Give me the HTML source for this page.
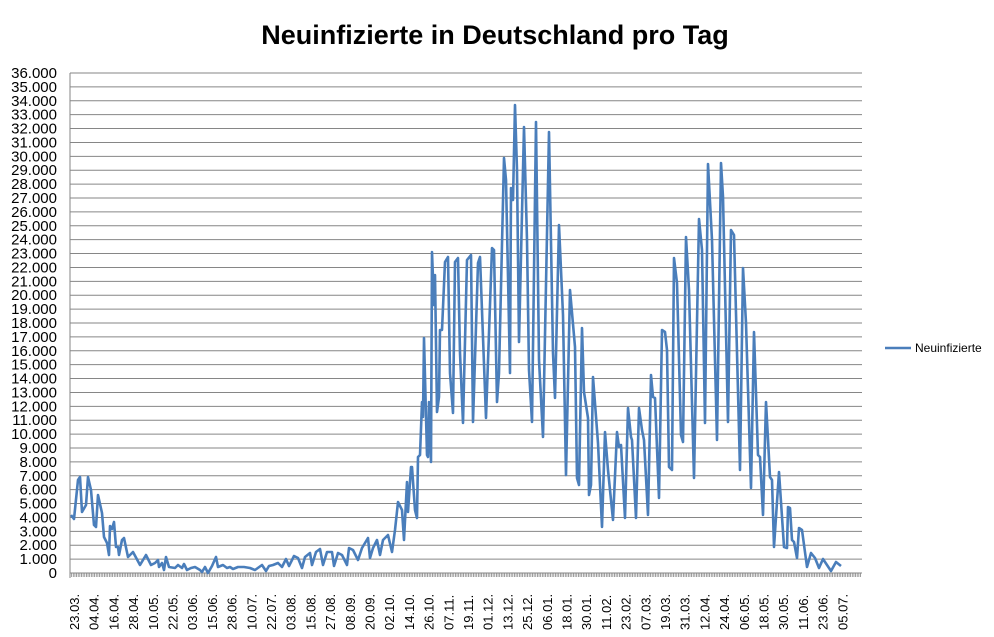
<!DOCTYPE html>
<html><head><meta charset="utf-8"><style>
body{margin:0;background:#fff;}
svg{display:block;font-family:"Liberation Sans",sans-serif;}
</style></head><body>
<svg id="s" width="994" height="637" viewBox="0 0 994 637" xmlns="http://www.w3.org/2000/svg">
<text x="495" y="44" text-anchor="middle" font-size="27" font-weight="bold" fill="#000">Neuinfizierte in Deutschland pro Tag</text>
<g id="grid"></g>
<g id="ylab" font-size="15" text-anchor="end" fill="#000"></g>
<g id="xlab" font-size="13" fill="#000"></g>
<polyline id="ln" fill="none" stroke="#4a7ebb" stroke-width="2.6" stroke-linejoin="round" points=""/>
<line x1="885" y1="348" x2="911" y2="348" stroke="#4a7ebb" stroke-width="2.6"/>
<text x="915" y="352" font-size="12" fill="#000">Neuinfizierte</text>
</svg>
<script>
var NS="http://www.w3.org/2000/svg",g=document.getElementById('grid'),yl=document.getElementById('ylab'),xl=document.getElementById('xlab');
function el(t,a,p,txt){var e=document.createElementNS(NS,t);for(var k in a)e.setAttribute(k,a[k]);if(txt)e.textContent=txt;p.appendChild(e);return e;}
var x0=70,x1=862,y0=573,y36=73;
for(var i=0;i<=36;i++){var y=y0-(y0-y36)*i/36;
 if(i>0)el('line',{x1:x0,x2:x1,y1:y,y2:y,stroke:'#868686','stroke-width':1},g);
 var s=i==0?'0':(i+'.000');el('text',{x:57,y:y+5},yl,s);}
el('line',{x1:x0,x2:x0,y1:y36,y2:y0+5,stroke:'#868686','stroke-width':1},g);
el('line',{x1:x0,x2:x1,y1:y0,y2:y0,stroke:'#868686','stroke-width':1},g);
for(var d=0;d<=483;d++){var x=x0+d*1.64;if(x>x1)break;el('line',{x1:x,x2:x,y1:y0,y2:y0+4,stroke:'#868686','stroke-width':0.8},g);}
var labs="23.03.,04.04.,16.04.,28.04.,10.05.,22.05.,03.06.,15.06.,28.06.,10.07.,22.07.,03.08.,15.08.,27.08.,08.09.,20.09.,02.10.,14.10.,26.10.,07.11.,19.11.,01.12.,13.12.,25.12.,06.01.,18.01.,30.01.,11.02.,23.02.,07.03.,19.03.,31.03.,12.04.,24.04.,06.05.,18.05.,30.05.,11.06.,23.06.,05.07.".split(',');
labs.forEach(function(l,i){var x=79+i*19.7;el('text',{x:0,y:0,transform:'translate('+x+',630) rotate(-90)'},xl,l);});
var pts="71,515 74,519 78,480 80,477 82,512 86,505 88,477 91,490 94,525 96,527 98,495 102,513 104,537 107,543 109,555 110,526 112,529 114,522 116,547 118,547 119,555 122,540 124,538 128,557 133,552 140,565 146,555 151,565 155,563 158,560 159,567 162,563 164,570 166,557 169,567 175,568 178,565 182,568 184,564 187,570 191,568 195,567 200,570 202,572 205,567 208,573 212,566 216,557 218,567 223,565 227,568 230,567 233,569 238,567 244,567 250,568 255,570 262,565 266,571 269,566 273,565 278,563 282,567 286,559 289,566 294,556 298,558 302,568 305,557 310,553 312,565 316,552 320,549 323,565 327,552 332,552 334,566 338,553 342,555 347,565 349,548 353,550 358,560 362,548 368,538 370,558 373,548 377,540 380,555 383,540 388,535 392,552 395,530 398,502 402,510 404,540 407,482 408,512 411,467 412,467 415,510 417,518 418,457 420,455 422,402 423,417 424,338 427,455 428,457 429,402 431,462 432,252 434,305 435,275 437,412 439,397 440,330 442,330 445,262 448,257 450,373 453,413 455,262 458,258 460,353 463,423 467,260 471,255 473,422 478,263 480,257 486,418 492,248 494,250 497,402 499,373 504,158 506,180 510,373 511,188 513,200 515,105 517,170 519,342 524,127 527,240 529,370 532,422 536,122 539,360 543,437 549,132 553,353 555,398 559,225 563,315 566,475 570,290 575,347 577,478 579,485 582,328 584,392 588,418 589,495 591,485 593,377 598,443 602,527 605,432 608,470 613,520 617,432 619,447 621,445 625,518 628,408 631,437 632,440 636,518 639,408 642,430 644,440 648,515 651,375 653,397 655,398 659,498 662,330 665,332 667,350 669,467 672,470 674,258 677,283 681,435 683,442 686,237 689,290 694,478 699,219 702,250 705,423 708,164 712,240 717,440 721,163 723,197 728,422 731,230 734,235 740,470 743,268 746,323 751,488 754,332 758,455 760,457 763,515 766,402 770,477 772,480 774,547 779,472 784,547 787,548 788,507 790,508 792,540 794,542 797,558 799,528 802,530 807,567 811,553 815,558 819,568 823,559 831,571 836,562 841,566";
document.getElementById('ln').setAttribute('points',pts);
</script>
</body></html>
